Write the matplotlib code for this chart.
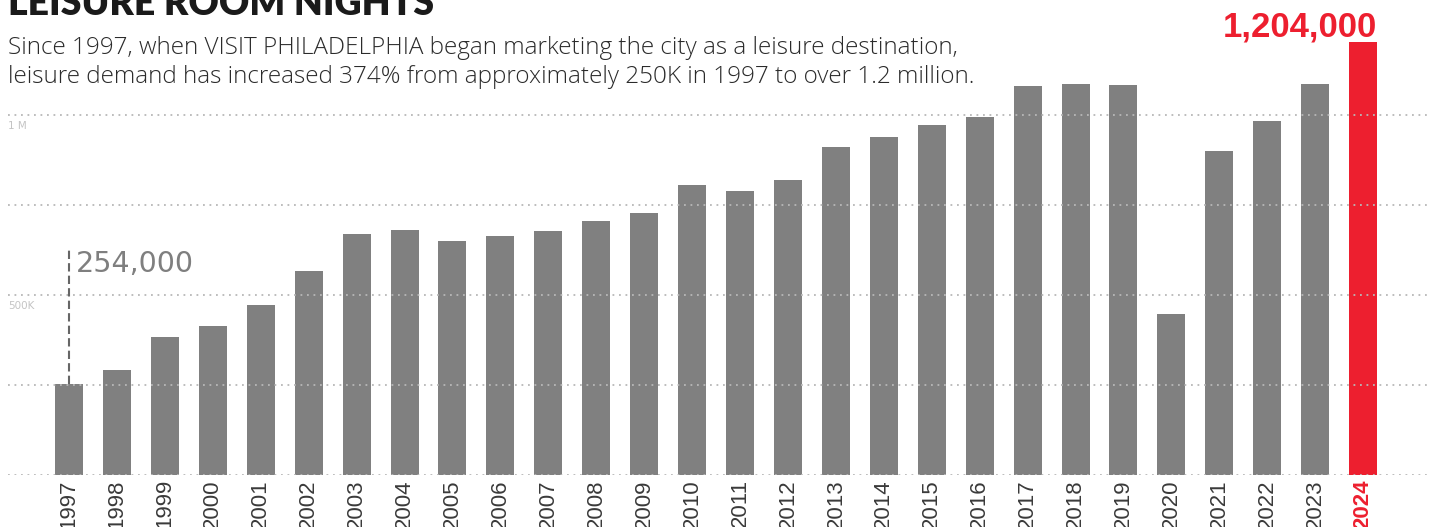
import matplotlib.pyplot as plt
from matplotlib.transforms import blended_transform_factory

# data
years = [str(y) for y in range(1997, 2025)]
room_nights = [254000, 292000, 383000, 414000, 472000, 567000, 669000, 681000,
               650000, 664000, 678000, 706000, 728000, 806000, 789000, 819000,
               911000, 939000, 972000, 994000, 1081000, 1086000, 1083000,
               447000, 900000, 983000, 1086000, 1204000]
grid_values = [0, 250000, 500000, 750000, 1000000]
axis_labels = {1000000: "1 M", 500000: "500K"}

title = "LEISURE ROOM NIGHTS"
subtitle = ["Since 1997, when VISIT PHILADELPHIA began marketing the city as a leisure destination,",
            "leisure demand has increased 374% from approximately 250K in 1997 to over 1.2 million."]

GRAY = "#808080"
RED = "#ED1F2F"
W, H = 1429, 527

fig = plt.figure(figsize=(W / 100, H / 100), dpi=100)
ax = fig.add_axes([8 / W, (H - 475) / H, 1 - 8 / W, 475 / H])

x = list(range(len(years)))
colors = [GRAY] * (len(years) - 1) + [RED]
ax.bar(x, room_nights, width=0.584, color=colors, zorder=2)

for g in grid_values:
    ax.axhline(g, color="#b8b8b8", lw=1.3, ls=(0, (1, 2.6)), zorder=3)

trans = blended_transform_factory(ax.transAxes, ax.transData)
for v, lab in axis_labels.items():
    ax.annotate(lab, xy=(0, v), xycoords=trans, xytext=(0, -4), textcoords="offset points",
                ha="left", va="top", fontsize=7.5, color="#c4c4c4", family="DejaVu Sans")

ax.set_xlim(-1.273, 28.375)
ax.set_ylim(0, 475 / 360 * 1e6)
for s in ax.spines.values():
    s.set_visible(False)
ax.set_yticks([])
ax.set_xticks(x)
ax.set_xticklabels(years, rotation=90, fontsize=16, color="#3a3a3a", family="Liberation Sans")
ax.tick_params(axis="x", length=0, pad=3)
last = ax.get_xticklabels()[-1]
last.set_color(RED)
last.set_fontweight("bold")

# 1997 callout
first = room_nights[0]
ax.plot([0, 0], [first, 625000], color="#666666", lw=1.5, ls=(0, (4, 2)), zorder=4)
ax.text(0.146, 564000, f"{first:,}", fontsize=20.5, color="#7f7f7f",
        family="DejaVu Sans", ha="left", va="baseline")

# 2024 callout
ax.annotate(f"{room_nights[-1]:,}", xy=(len(years) - 1 + 0.29, room_nights[-1]),
            xytext=(0, 4), textcoords="offset points", ha="right", va="baseline",
            fontsize=25, fontweight="bold", color=RED, family="Liberation Sans")


def fit_width(t, target_px):
    # scale the font so the text spans roughly the same width as in the reference
    r = fig.canvas.get_renderer()
    w = t.get_window_extent(r).width
    t.set_fontsize(t.get_fontsize() * target_px / w)


t0 = fig.text(8 / W, 1 - 15 / H, title, fontsize=25, fontweight="heavy", family="Lato",
              color="#1a1a1a", ha="left", va="baseline")
t1 = fig.text(8 / W, 1 - 54 / H, subtitle[0], fontsize=14, family="Open Sans",
              fontweight="light", color="#2b2b2b", ha="left", va="baseline")
t2 = fig.text(8 / W, 1 - 83 / H, subtitle[1], fontsize=14, family="Open Sans",
              fontweight="light", color="#2b2b2b", ha="left", va="baseline")
fit_width(t0, 428)
fit_width(t1, 954)
t2.set_fontsize(t1.get_fontsize())

fig.savefig("out.png", dpi=100)
